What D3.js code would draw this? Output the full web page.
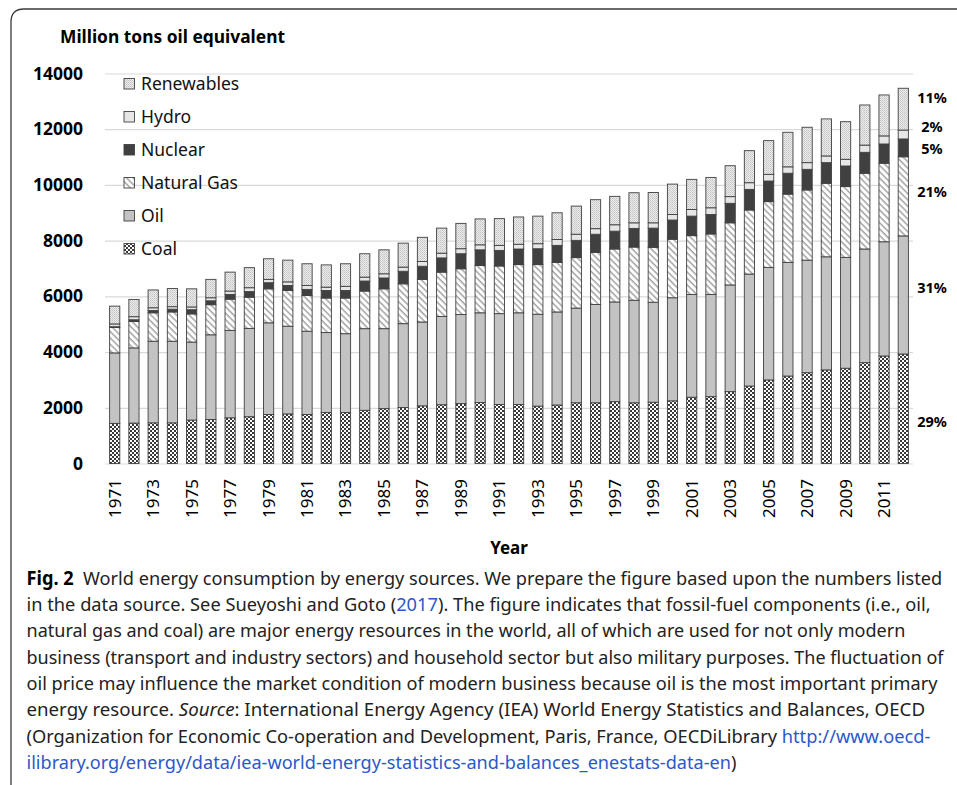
<html>
<head>
<meta charset="utf-8">
<script src="https://d3js.org/d3.v7.min.js"></script>
<style>
body { margin: 0; background: #fff; }
text { font-family: "Noto Sans", "Open Sans", sans-serif; }
</style>
</head>
<body>
<div id="chart"></div>
<script>

// values, Mtoe
var years = [1971,1972,1973,1974,1975,1976,1977,1978,1979,1980,
             1981,1982,1983,1984,1985,1986,1987,1988,1989,1990,
             1991,1992,1993,1994,1995,1996,1997,1998,1999,2000,
             2001,2002,2003,2004,2005,2006,2007,2008,2009,2010,
             2011,2012];
var coal = [1440,1450,1460,1460,1560,1580,1640,1680,1760,1780,
            1760,1830,1830,1910,1970,2010,2070,2110,2150,2190,
            2120,2120,2060,2100,2180,2180,2220,2180,2200,2250,
            2380,2400,2580,2780,3000,3140,3260,3360,3420,3620,
            3860,3930];
var oil = [2530,2700,2930,2930,2800,3040,3140,3170,3290,3150,
           2990,2870,2830,2930,2870,3010,3010,3170,3200,3220,
           3260,3290,3300,3340,3400,3530,3580,3680,3590,3700,
           3690,3670,3830,4020,4040,4080,4040,4060,3980,4080,
           4100,4240];
var gas = [910,950,1020,1050,1010,1080,1120,1120,1220,1280,
           1280,1240,1280,1350,1430,1430,1530,1590,1640,1700,
           1710,1730,1780,1780,1810,1870,1900,1910,1970,2100,
           2110,2170,2230,2300,2360,2450,2520,2640,2540,2720,
           2820,2840];
var nuclear = [30,60,80,100,150,140,170,200,220,180,
               220,270,270,360,390,450,470,510,540,560,
               560,560,570,610,620,650,640,670,690,690,
               700,700,700,740,740,750,740,740,740,750,
               690,640];
var hydro = [100,110,100,90,100,110,120,140,120,130,
             140,120,150,140,150,150,170,170,180,180,
             180,170,180,210,220,200,230,200,190,200,
             240,240,240,240,240,230,240,240,240,260,
             290,320];
var renewables = [640,620,640,650,650,660,680,720,740,780,
                  780,800,810,840,860,860,870,900,910,930,
                  960,980,990,960,1010,1040,1020,1080,1090,1090,
                  1080,1090,1110,1150,1210,1240,1270,1330,1350,1440,
                  1470,1500];

var sources = ["Coal", "Oil", "Natural Gas", "Nuclear", "Hydro", "Renewables"];
var shareLabels = ["29%", "31%", "21%", "5%", "2%", "11%"];
var shareAt = [1490, 6300, 9745, 11290, 12080, 13120];
var yTicks = [0, 2000, 4000, 6000, 8000, 10000, 12000, 14000];
var xTickYears = [1971,1973,1975,1977,1979,1981,1983,1985,1987,1989,1991,
                  1993,1995,1997,1999,2001,2003,2005,2007,2009,2011];

var series = [coal, oil, gas, nuclear, hydro, renewables];
var rows = years.map(function(yr, i) {
  var r = {year: yr};
  sources.forEach(function(s, j) { r[s] = series[j][i]; });
  return r;
});

var W = 957, H = 785;
var left = 105, right = 913;

var svg = d3.select("#chart")
  .append("svg")
    .attr("width", W)
    .attr("height", H);

// fills
var defs = svg.append("defs");

var pCoal = defs.append("pattern")
    .attr("id", "pat-coal")
    .attr("patternUnits", "userSpaceOnUse")
    .attr("width", 4).attr("height", 4);
pCoal.append("rect").attr("width", 4).attr("height", 4).attr("fill", "#fff");
pCoal.append("rect").attr("width", 2).attr("height", 2).attr("fill", "#383838");
pCoal.append("rect").attr("x", 2).attr("y", 2).attr("width", 2).attr("height", 2).attr("fill", "#383838");

var pGas = defs.append("pattern")
    .attr("id", "pat-gas")
    .attr("patternUnits", "userSpaceOnUse")
    .attr("width", 4.5).attr("height", 4.5)
    .attr("patternTransform", "rotate(-45)");
pGas.append("rect").attr("width", 4.5).attr("height", 4.5).attr("fill", "#fff");
pGas.append("line")
    .attr("x1", 1).attr("y1", 0).attr("x2", 1).attr("y2", 4.5)
    .attr("stroke", "#8c8c8c").attr("stroke-width", 1.2);

var pRen = defs.append("pattern")
    .attr("id", "pat-ren")
    .attr("patternUnits", "userSpaceOnUse")
    .attr("width", 2).attr("height", 2);
pRen.append("rect").attr("width", 2).attr("height", 2).attr("fill", "#ededed");
pRen.append("rect").attr("width", 1).attr("height", 1).attr("fill", "#c2c2c2");
pRen.append("rect").attr("x", 1).attr("y", 1).attr("width", 1).attr("height", 1).attr("fill", "#cfcfcf");

var fill = d3.scaleOrdinal()
  .domain(sources)
  .range(["url(#pat-coal)", "#c3c3c3", "url(#pat-gas)", "#404040", "#e6e6e6", "url(#pat-ren)"]);

// frame
svg.append("path")
    .attr("d", "M11," + H + " L11,22 Q11,9 24,9 L" + W + ",9")
    .attr("fill", "none")
    .attr("stroke", "#3a3a3a")
    .attr("stroke-width", 1.3);

var x = d3.scaleBand()
  .domain(years)
  .range([left, right])
  .paddingInner(0.47)
  .paddingOuter(0.24);

var y = d3.scaleLinear()
  .domain([0, 14000])
  .range([463.5, 73.5]);

// y axis + gridlines
var gy = svg.append("g")
    .attr("transform", "translate(" + left + ",0)")
    .call(d3.axisLeft(y)
      .tickValues(yTicks)
      .tickSize(-(right - left))
      .tickPadding(22)
      .tickFormat(d3.format("d")));
gy.select(".domain").remove();
gy.selectAll(".tick line").attr("stroke", "#d9d9d9").attr("stroke-width", 1.2);
gy.selectAll(".tick text")
    .attr("font-size", 17.5)
    .attr("font-weight", "bold")
    .attr("fill", "#000");

// stacked bars
var stacked = d3.stack().keys(sources)(rows);

svg.append("g")
  .selectAll("g")
  .data(stacked)
  .enter()
  .append("g")
    .attr("fill", function(d) { return fill(d.key); })
  .selectAll("rect")
  .data(function(d) { return d; })
  .enter()
  .append("rect")
    .attr("x", function(d) { return x(d.data.year); })
    .attr("y", function(d) { return y(d[1]); })
    .attr("width", x.bandwidth())
    .attr("height", function(d) { return y(d[0]) - y(d[1]); })
    .attr("stroke", "#404040")
    .attr("stroke-width", 0.9);

// x axis
var gx = svg.append("g")
    .attr("transform", "translate(0," + y(0) + ")")
    .call(d3.axisBottom(x).tickSize(0).tickValues(xTickYears));
gx.select(".domain").remove();
gx.selectAll(".tick text")
    .attr("transform", "rotate(-90)")
    .attr("text-anchor", "end")
    .attr("x", -15.5)
    .attr("y", 0)
    .attr("dy", "0.35em")
    .attr("font-size", 17)
    .attr("fill", "#000");

svg.append("text")
    .attr("x", (left + right) / 2)
    .attr("y", 554)
    .attr("text-anchor", "middle")
    .attr("font-size", 17)
    .attr("font-weight", "bold")
    .text("Year");

svg.append("text")
    .attr("x", 60)
    .attr("y", 42.5)
    .attr("font-size", 18)
    .attr("font-weight", "bold")
    .attr("textLength", 225)
    .attr("lengthAdjust", "spacingAndGlyphs")
    .text("Million tons oil equivalent");

// legend, top item first
var legendOrder = sources.slice().reverse();
var legend = svg.append("g")
  .selectAll("g")
  .data(legendOrder)
  .enter()
  .append("g")
    .attr("transform", function(d, i) { return "translate(124," + (84 + i * 33) + ")"; });
legend.append("rect")
    .attr("x", 0)
    .attr("y", -5.5)
    .attr("width", 10.5)
    .attr("height", 10.5)
    .attr("fill", function(d) { return fill(d); })
    .attr("stroke", "#404040")
    .attr("stroke-width", 0.9);
legend.append("text")
    .attr("x", 17)
    .attr("y", 0)
    .attr("dy", "0.36em")
    .attr("font-size", 17.5)
    .attr("fill", "#111")
    .text(function(d) { return d; });

// 2012 shares
svg.append("g")
  .selectAll("text")
  .data(shareLabels)
  .enter()
  .append("text")
    .attr("x", 932)
    .attr("y", function(d, i) { return y(shareAt[i]); })
    .attr("dy", "0.36em")
    .attr("text-anchor", "middle")
    .attr("font-size", 14.5)
    .attr("font-weight", "bold")
    .text(function(d) { return d; });

// caption
var captionLines = [
  [["Fig. 2", "b"], ["  World energy consumption by energy sources. We prepare the figure based upon the numbers listed", ""]],
  [["in the data source. See Sueyoshi and Goto (", ""], ["2017", "a"], ["). The figure indicates that fossil-fuel components (i.e., oil,", ""]],
  [["natural gas and coal) are major energy resources in the world, all of which are used for not only modern", ""]],
  [["business (transport and industry sectors) and household sector but also military purposes. The fluctuation of", ""]],
  [["oil price may influence the market condition of modern business because oil is the most important primary", ""]],
  [["energy resource. ", ""], ["Source", "i"], [": International Energy Agency (IEA) World Energy Statistics and Balances, OECD", ""]],
  [["(Organization for Economic Co-operation and Development, Paris, France, OECDiLibrary ", ""], ["http://www.oecd-", "a"]],
  [["ilibrary.org/energy/data/iea-world-energy-statistics-and-balances_enestats-data-en", "a"], [")", ""]]
];
var captionEnds = [943, 931, 906, 944, 938, 926, 931, 737];

captionLines.forEach(function(line, i) {
  var t = svg.append("text")
      .attr("xml:space", "preserve")
      .style("white-space", "pre")
      .attr("font-size", 19)
      .attr("fill", "#222");
  line.forEach(function(seg) {
    var ts = t.append("tspan").text(seg[0]);
    if (seg[1] == "b") ts.attr("font-weight", "bold").attr("fill", "#000");
    if (seg[1] == "i") ts.attr("font-style", "italic");
    if (seg[1] == "a") ts.attr("fill", "#2b58c9");
  });
  var w = t.node().getComputedTextLength();
  var sx = (captionEnds[i] - 26.5) / w;
  t.attr("transform", "translate(26.5," + (584.5 + i * 26.35) + ") scale(" + sx + ",1)");
});

</script>
</body>
</html>
